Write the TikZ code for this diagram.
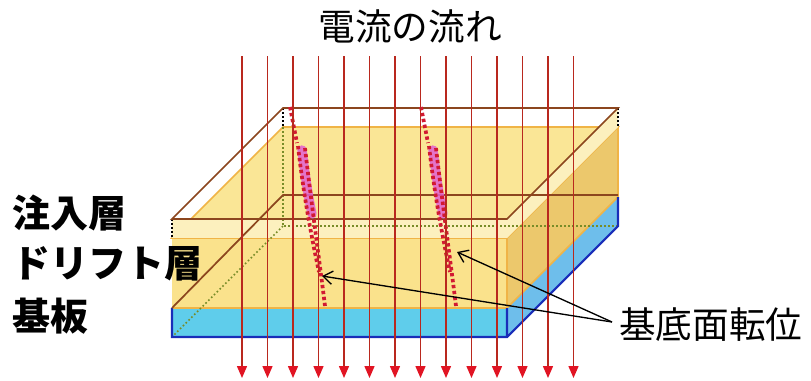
\documentclass[tikz,border=0pt]{standalone}
\usepackage{fontspec}
\newfontfamily\jpfont{Noto Sans CJK JP}
\usetikzlibrary{arrows.meta}
\definecolor{wirebrown}{RGB}{140,70,30}
\definecolor{driftfront}{RGB}{250,226,140}
\definecolor{drifttop}{RGB}{250,230,150}
\definecolor{driftside}{RGB}{236,200,108}
\definecolor{driftedge}{RGB}{240,180,70}
\definecolor{injface}{RGB}{252,240,190}
\definecolor{subblue}{RGB}{95,205,235}
\definecolor{subside}{RGB}{110,190,235}
\definecolor{subedge}{RGB}{25,45,185}
\definecolor{hiddenolive}{RGB}{120,140,40}
\definecolor{currentred}{RGB}{185,40,30}
\definecolor{tipred}{RGB}{225,20,35}
\definecolor{disred}{RGB}{210,25,50}
\definecolor{dispink}{RGB}{225,95,210}

\begin{document}
\begin{tikzpicture}[x=0.75pt,y=0.75pt,yscale=-1,xscale=1,
	wire/.style={color=wirebrown,line width=1.3},
	hidden/.style={color=hiddenolive,line width=1.3,dash pattern={on 1.2pt off 1.8pt}},
	current/.style={color=currentred,line width=1.1,-{Triangle[length=9pt,width=7.5pt,color=tipred,fill=tipred]}},
	disdots/.style={color=disred,line width=2.8,dash pattern={on 2.5pt off 2pt}},
	callout/.style={color=black,line width=1,-{Straight Barb[length=7pt,width=10pt]}},
	jptext/.style={font=\jpfont\fontsize{27.5}{30}\selectfont,inner sep=0.75pt},
	sidetext/.style={font=\jpfont\bfseries\fontsize{28.5}{30}\selectfont,inner sep=0.75pt,anchor=west}]
	
	\path [fill=white] (0,0) rectangle (811,380);
	
	%Shape: substrate (front and side)
	\fill [subblue] (172,308) rectangle (507,337);
	\fill [subside] (507,308) -- (618,197) -- (618,226) -- (507,337) -- cycle;
	
	%Shape: drift layer
	\fill [drifttop] (172,238) -- (283,127) -- (618,127) -- (507,238) -- cycle;
	\fill [driftfront] (172,238) rectangle (507,308);
	\fill [driftside] (507,238) -- (618,127) -- (618,197) -- (507,308) -- cycle;
	\draw [driftedge,line width=1.2] (172,238) -- (283,127) -- (618,127) -- (507,238) -- cycle (507,238) -- (507,308) (618,127) -- (618,197) -- (507,308) -- (172,308) ;
	
	%Shape: injection layer (thin faces)
	\fill [injface] (172,219) rectangle (507,238);
	\fill [injface] (507,219) -- (618,108) -- (618,127) -- (507,238) -- cycle;
	
	%Straight Lines: hidden edges
	\draw [hidden] (283,127) -- (283,226) -- (618,226) ;
	\draw [hidden] (283,226) -- (172,337) ;
	\draw [color=black,line width=1.3,dash pattern={on 1.2pt off 1.8pt}] (172,219) -- (172,238) (618,108) -- (618,127) (283,108) -- (283,127) ;
	
	%Shape: substrate edges
	\draw [subedge,line width=1.6] (172,308) -- (172,337) -- (507,337) -- (618,226) -- (618,197) (507,308) -- (507,337) ;
	
	%Shape: wire box
	\draw [wire] (172,219) -- (283,108) -- (618,108) -- (507,219) -- cycle ;
	\draw [wire] (172,308) -- (283,195) -- (618,195) ;
	
	%Shape: basal plane dislocations
	\foreach \dx in {0,131} {
		\begin{scope}[xshift=\dx*0.75pt]
			\draw [dispink,line width=7,opacity=0.85,line cap=round] (302,150) .. controls (305,175) and (308,195) .. (312,214) ;
			\draw [disdots] (290,107) -- (297,143) ;
			\draw [disdots] (298,146) .. controls (303,190) and (310,230) .. (319,272) ;
			\draw [disdots] (305,148) .. controls (311,200) and (318,250) .. (325,306) ;
		\end{scope}
	}
	
	%Straight Lines: current flow
	\foreach \i in {0,...,13} {
		\draw [current] (242+25.5*\i,56) -- (242+25.5*\i,378) ;
	}
	
	% Text Node
	\node [jptext] (flow) at (410,27) {電流の流れ};
	\node [sidetext] (inj) at (11,213) {注入層};
	\node [sidetext] (drift) at (11,264) {ドリフト層};
	\node [sidetext] (sub) at (11,316) {基板};
	\node [jptext,anchor=west] (bpd) at (618,325) {基底面転位};
	
	%Straight Lines: callouts
	\coordinate (meet) at (612,322);
	\coordinate (bpdA) at (322,276);
	\coordinate (bpdB) at (457,252);
	\draw [callout] (meet) -- (bpdA) ;
	\draw [callout] (meet) -- (bpdB) ;
	
\end{tikzpicture}
\end{document}
